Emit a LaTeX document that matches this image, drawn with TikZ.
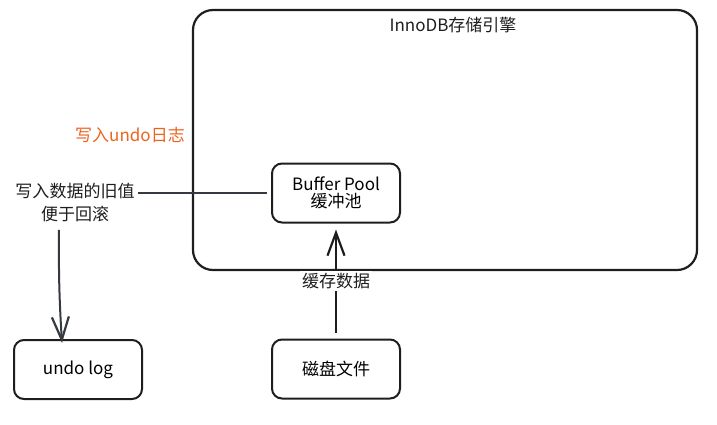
\documentclass[tikz,border=0pt]{standalone}
\usepackage{fontspec}
\setmainfont{Noto Sans CJK SC}
\usepackage{tikz}
\usetikzlibrary{arrows.meta}
\definecolor{ink}{HTML}{1E1E1E}
\definecolor{slate}{HTML}{343A40}
\definecolor{undoorange}{HTML}{EB6420}

\begin{document}
\begin{tikzpicture}[x=1pt, y=-1pt,
		box/.style = {draw=ink, line width=2pt, rounded corners=10pt, minimum width=128pt, minimum height=59pt, align=center, font=\fontsize{17}{20}\selectfont},
		txt/.style = {align=center, font=\fontsize{17}{23}\selectfont},
		barb/.style = {-{Straight Barb[length=23pt, width=17pt, line width=2.2pt]}}]
				\useasboundingbox (0,0) rectangle (717,424);
				% engine frame
				\draw[draw=ink, line width=2.2pt, rounded corners=20pt] (193,10) rectangle (697,270);
				\node[txt, text=ink] (title) at (453,25) {InnoDB存储引擎};
				\node[box] (pool) at (336,193) {Buffer Pool\\[-3pt]缓冲池};
				\node[box] (undo) at (78,369.5) {undo log};
				\node[box] (disk) at (336,369) {磁盘文件};
				\node[txt, text=undoorange] (step) at (130,135) {写入undo日志};
				\node[txt, text=ink] (note) at (75,203) {写入数据的旧值\\便于回滚};
				\draw[slate, line width=2pt] (note.east |- pool.west) -- ([xshift=-4pt]pool.west);
				\draw[slate, line width=2pt, barb] ([xshift=-16pt, yshift=-4pt]note.south) to[bend right=2] ([xshift=-16pt, yshift=-4pt]undo.north);
				\draw[ink, line width=2.2pt, barb, shorten <=6pt, shorten >=6pt] (disk.north) -- node[fill=white, txt, text=ink, inner sep=2pt] (cache) {缓存数据} (pool.south);
			\end{tikzpicture}
\end{document}
